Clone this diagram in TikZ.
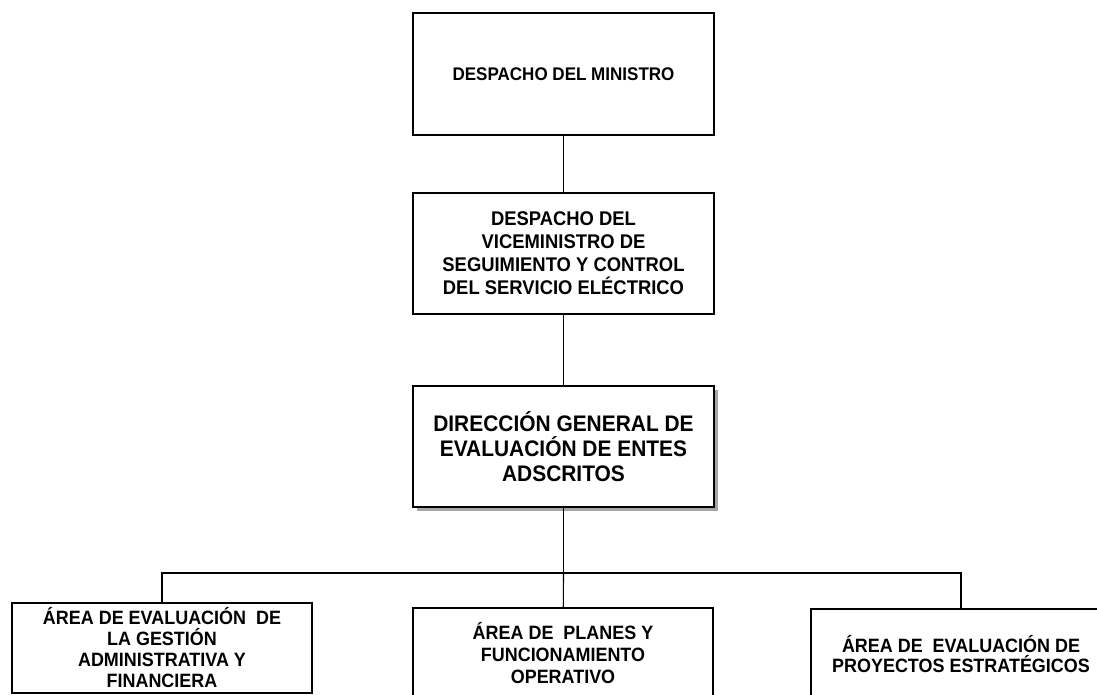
\documentclass[tikz,border=0pt]{standalone}
\usepackage{fontspec}
\setmainfont{Liberation Sans}[FakeStretch=0.93]
\usetikzlibrary{shadows}

\begin{document}
\begin{tikzpicture}[x=1pt, y=-1pt,
    unit/.style={rectangle, draw, line width=1.1pt, fill=white, align=center, inner sep=0pt, font=\bfseries},
    link/.style={line width=1.1pt},
]
    \useasboundingbox (0,0) rectangle (1097,694);
    \node[unit, minimum width=301pt, minimum height=122pt, font=\bfseries\fontsize{18.3}{20}\selectfont] (min) at (563.5,74) {DESPACHO DEL MINISTRO};
    \node[unit, minimum width=301pt, minimum height=121pt, font=\bfseries\fontsize{19.8}{23}\selectfont] (vice) at (563.5,253.5) {DESPACHO DEL\\VICEMINISTRO DE\\SEGUIMIENTO Y CONTROL\\DEL SERVICIO ELÉCTRICO};
    \node[unit, minimum width=301pt, minimum height=121pt, font=\bfseries\fontsize{22.5}{25}\selectfont,
        drop shadow={shadow xshift=4pt, shadow yshift=-4pt, fill=gray!70, opacity=1}] (dir) at (563.5,446.5) {DIRECCIÓN GENERAL DE\\EVALUACIÓN DE ENTES\\ADSCRITOS};
    \node[unit, minimum width=300pt, minimum height=90pt, font=\bfseries\fontsize{19.3}{21}\selectfont] (adm) at (162,648) {ÁREA DE EVALUACIÓN\ \ DE\\LA GESTIÓN\\ADMINISTRATIVA Y\\FINANCIERA};
    \node[unit, minimum width=300pt, minimum height=90pt, font=\bfseries\fontsize{19.3}{22}\selectfont] (pla) at (563,653) {ÁREA DE\ \ PLANES Y\\FUNCIONAMIENTO\\OPERATIVO};
    \node[unit, minimum width=300pt, minimum height=90pt, font=\bfseries\fontsize{19.3}{20}\selectfont] (pro) at (961,654) {ÁREA DE\ \ EVALUACIÓN DE\\PROYECTOS ESTRATÉGICOS};
    \coordinate (bus) at (563.5,573);
    \draw[link] (min) -- (vice);
    \draw[link] (vice) -- (dir);
    \draw[link] (dir) -- (bus);
    \draw[link] (adm.north) |- (bus) -| (pro.north);
    \draw[link] (bus) -- (pla);
\end{tikzpicture}
\end{document}
